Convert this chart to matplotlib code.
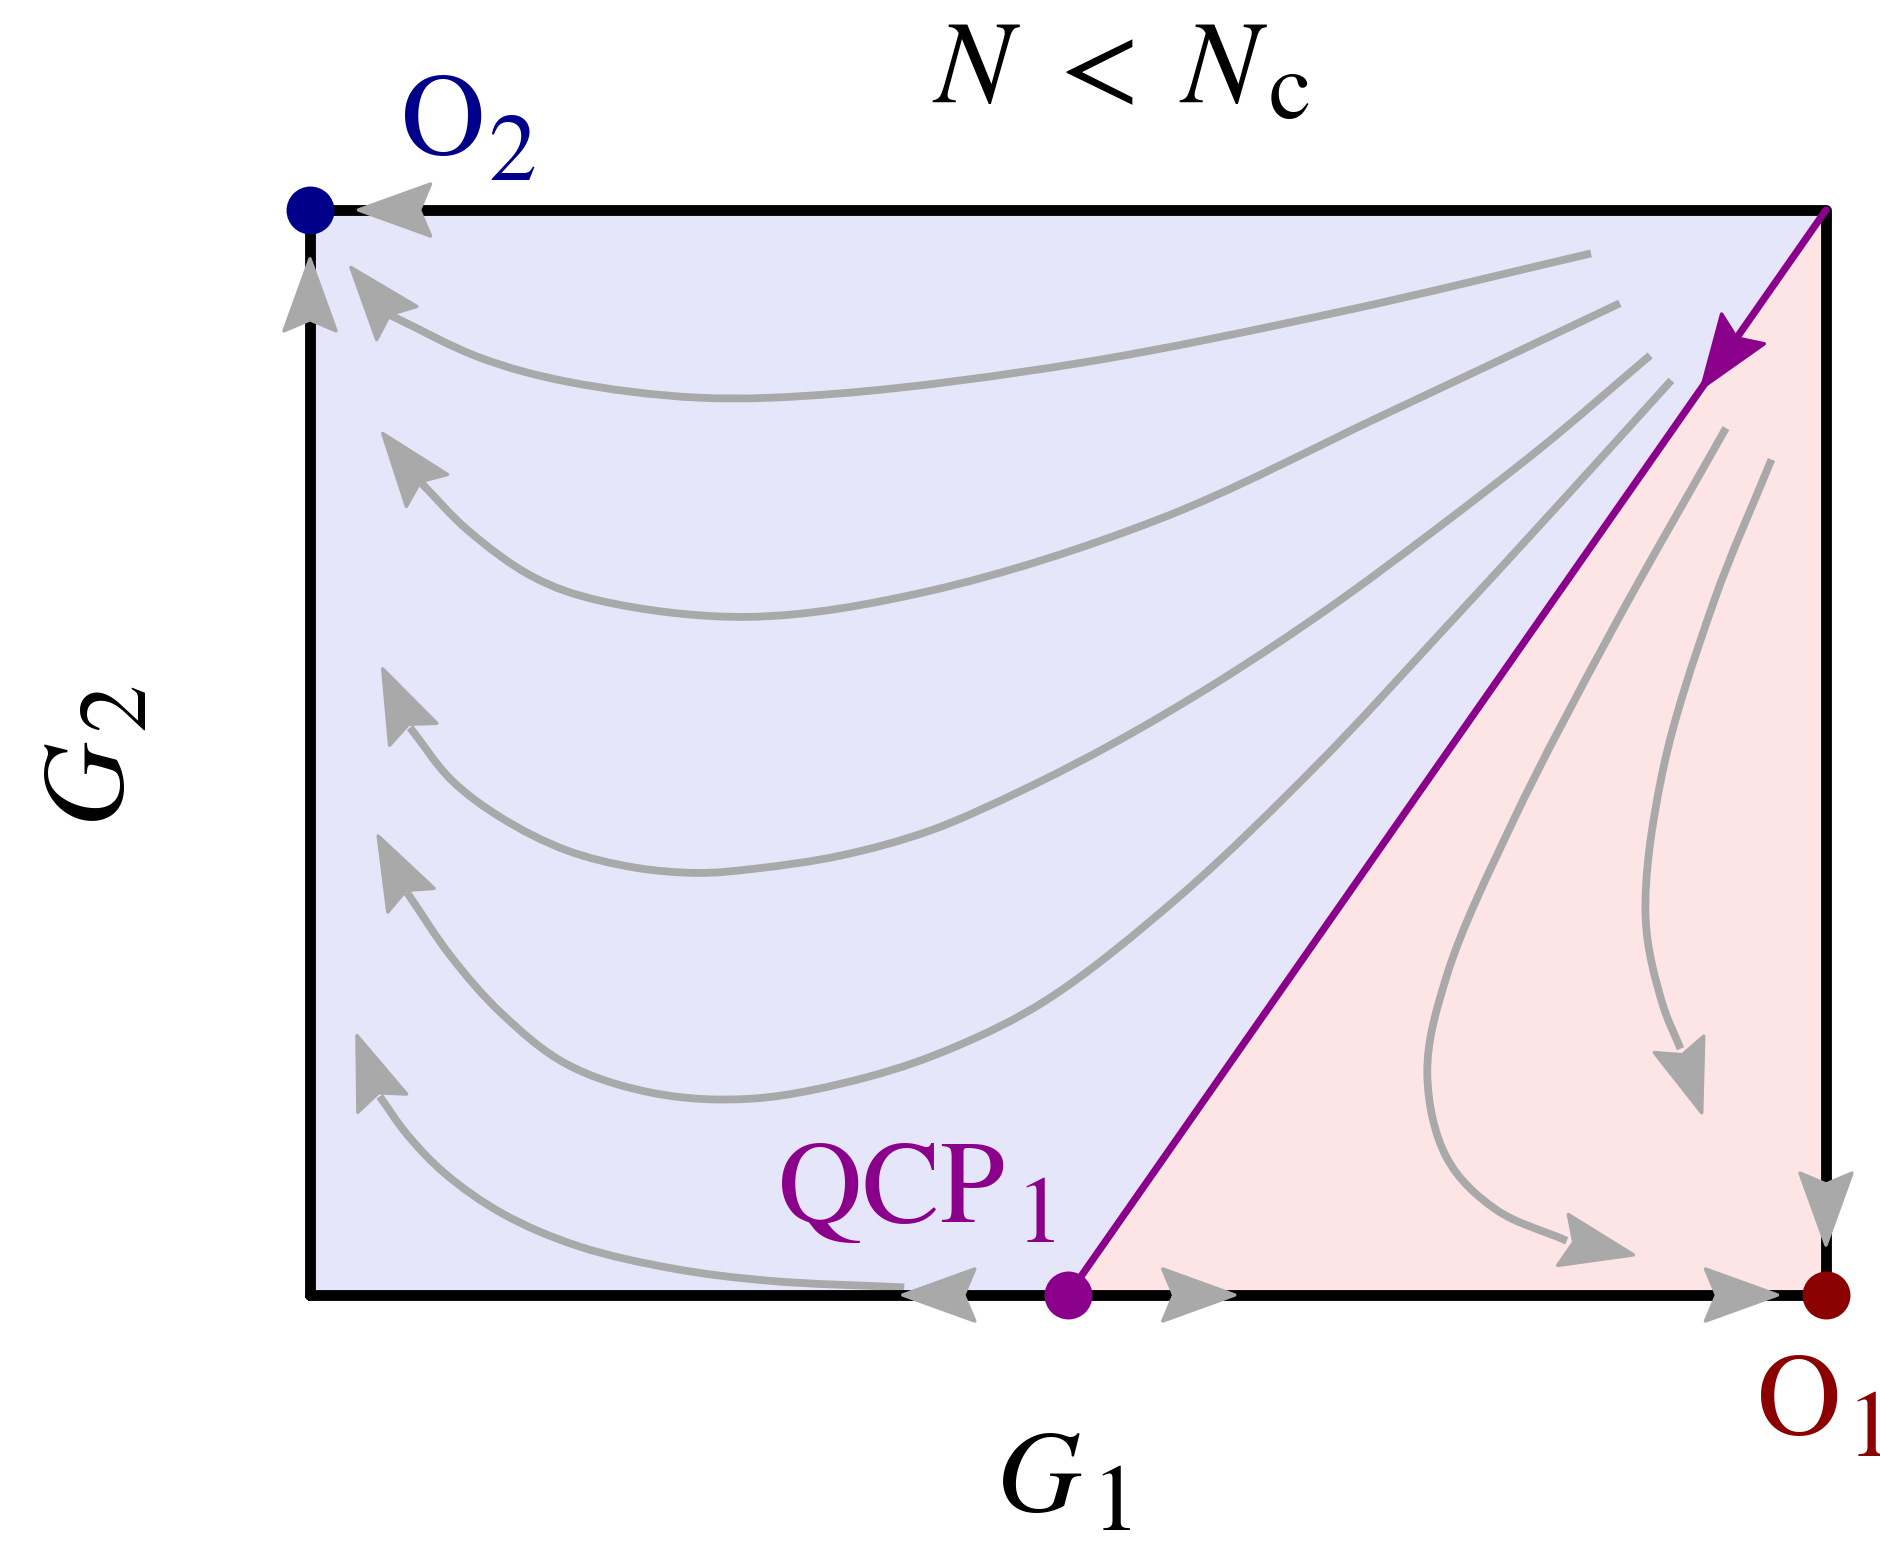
import numpy as np
import matplotlib as mpl
mpl.use("Agg")
import matplotlib.pyplot as plt
import matplotlib.transforms as mtransforms
from matplotlib.patches import Polygon, PathPatch
from matplotlib.path import Path

# ============================================================
# 1) Data: RG flow in the (G1, G2) plane, box = [0, 1] x [0, 1]
# ============================================================
QCP_G1 = 0.5                      # QCP1 sits on the G1 axis
SEPARATRIX_G1 = [0.5, 1.0]        # purple critical line QCP1 -> corner
SEPARATRIX_G2 = [0.0, 1.0]
SEPARATRIX_ARROW = (0.918, 0.836)

FIXED_POINTS = {
    "O2": (0.0, 1.0),
    "O1": (1.0, 0.0),
    "QCP1": (QCP_G1, 0.0),
}

# flow lines in the blue region (towards O2); last two points = notch, tip
FLOW_1_G1 = [0.845, 0.682, 0.508, 0.350, 0.257, 0.169, 0.112, 0.053, 0.027]
FLOW_1_G2 = [0.960, 0.907, 0.859, 0.831, 0.827, 0.842, 0.864, 0.903, 0.947]

FLOW_2_G1 = [0.864, 0.711, 0.560, 0.409, 0.290, 0.191, 0.147, 0.104, 0.073, 0.048]
FLOW_2_G2 = [0.914, 0.813, 0.715, 0.649, 0.625, 0.640, 0.662, 0.705, 0.749, 0.794]

FLOW_3_G1 = [0.884, 0.813, 0.742, 0.672, 0.601, 0.532, 0.471, 0.409, 0.350, 0.294, 0.257,
             0.214, 0.169, 0.126, 0.093, 0.066, 0.048]
FLOW_3_G2 = [0.866, 0.782, 0.705, 0.633, 0.567, 0.510, 0.466, 0.428, 0.405, 0.393, 0.389,
             0.394, 0.410, 0.440, 0.475, 0.523, 0.577]

FLOW_4_G1 = [0.898, 0.824, 0.745, 0.666, 0.574, 0.486, 0.426, 0.368, 0.292, 0.227, 0.169,
             0.126, 0.093, 0.064, 0.045]
FLOW_4_G2 = [0.843, 0.729, 0.609, 0.491, 0.368, 0.272, 0.229, 0.201, 0.181, 0.186, 0.213,
             0.260, 0.312, 0.371, 0.423]

FLOW_5_G1 = [0.392, 0.304, 0.241, 0.177, 0.127, 0.089, 0.064, 0.046, 0.031]
FLOW_5_G2 = [0.007, 0.013, 0.024, 0.045, 0.075, 0.112, 0.148, 0.183, 0.239]

# flow lines in the pink region (towards O1)
FLOW_6_G1 = [0.934, 0.859, 0.794, 0.750, 0.737, 0.750, 0.782, 0.829, 0.873]
FLOW_6_G2 = [0.799, 0.613, 0.438, 0.295, 0.204, 0.126, 0.079, 0.050, 0.037]

FLOW_7_G1 = [0.964, 0.926, 0.892, 0.881, 0.892, 0.904, 0.918]
FLOW_7_G2 = [0.770, 0.639, 0.481, 0.348, 0.269, 0.227, 0.168]

FLOWS = [
    (FLOW_1_G1, FLOW_1_G2), (FLOW_2_G1, FLOW_2_G2), (FLOW_3_G1, FLOW_3_G2),
    (FLOW_4_G1, FLOW_4_G2), (FLOW_5_G1, FLOW_5_G2),
    (FLOW_6_G1, FLOW_6_G2), (FLOW_7_G1, FLOW_7_G2),
]

# arrows sitting on the box edges: (tip G1, tip G2, direction)
EDGE_ARROWS = [
    (0.032, 1.000, (-1, 0)),
    (0.000, 0.955, (0, 1)),
    (0.391, 0.000, (-1, 0)),
    (0.610, 0.000, (1, 0)),
    (0.968, 0.000, (1, 0)),
    (1.000, 0.046, (0, -1)),
]

# ============================================================
# 2) Styling / canvas
# ============================================================
GRAY = "#A9A9A9"
PURPLE = "#8B008B"
NAVY = "#00008B"
DARKRED = "#8B0000"
BLUE_FILL = "#E6E6FA"
PINK_FILL = "#FDE5E5"

mpl.rcParams.update({
    "mathtext.fontset": "stix",
    "font.family": "STIXGeneral",
})

W_PX, H_PX = 1881, 1547
BOX_L, BOX_R, BOX_T, BOX_B = 310, 1826, 210, 1295   # box frame in pixels
sx = BOX_R - BOX_L
sy = BOX_B - BOX_T

fig = plt.figure(figsize=(W_PX / 100, H_PX / 100), dpi=100)
ax = fig.add_axes([0, 0, 1, 1])
ax.set_xlim(-BOX_L / sx, (W_PX - BOX_L) / sx)
ax.set_ylim((BOX_B - H_PX) / sy, BOX_B / sy)
ax.axis("off")


def px(x, y):
    """pixel position (from top-left) -> data coords"""
    return (x - BOX_L) / sx, (BOX_B - y) / sy


def smooth_path(xs, ys, alpha=0.5):
    """centripetal Catmull-Rom through the points, as cubic Bezier segments"""
    P = np.column_stack([xs, ys]).astype(float)
    P = np.vstack([2 * P[0] - P[1], P, 2 * P[-1] - P[-2]])
    scale = np.array([sx, sy])

    def d(a, b):
        return max(np.hypot(*((b - a) * scale)) ** alpha, 1e-9)

    verts, codes = [P[1]], [Path.MOVETO]
    for i in range(1, len(P) - 2):
        p0, p1, p2, p3 = P[i - 1], P[i], P[i + 1], P[i + 2]
        d1, d2, d3 = d(p0, p1), d(p1, p2), d(p2, p3)
        c1 = (d1**2 * p2 - d2**2 * p0 + (2 * d1**2 + 3 * d1 * d2 + d2**2) * p1) / (3 * d1 * (d1 + d2))
        c2 = (d3**2 * p1 - d2**2 * p3 + (2 * d3**2 + 3 * d3 * d2 + d2**2) * p2) / (3 * d3 * (d3 + d2))
        verts += [c1, c2, p2]
        codes += [Path.CURVE4] * 3
    return Path(verts, codes)


def arrowhead(tip, tail, color, L=0.72, W=0.26, N=0.11, z=5):
    p1 = ax.transData.transform(tip)
    p0 = ax.transData.transform(tail)
    ang = np.arctan2(p1[1] - p0[1], p1[0] - p0[0])
    verts = np.array([[0, 0], [-L, W], [-L + N, 0], [-L, -W]])
    tr = (mtransforms.Affine2D().rotate(ang) + fig.dpi_scale_trans
          + mtransforms.ScaledTranslation(tip[0], tip[1], ax.transData))
    ax.add_patch(Polygon(verts, closed=True, transform=tr, fc=color, ec=color,
                         lw=2.5, joinstyle="round", zorder=z))


# ============================================================
# 3) Regions, flows, box
# ============================================================
ax.add_patch(Polygon([(0, 0), (QCP_G1, 0), (1, 1), (0, 1)], closed=True,
                     fc=BLUE_FILL, ec="none", zorder=0))
ax.add_patch(Polygon([(QCP_G1, 0), (1, 0), (1, 1)], closed=True,
                     fc=PINK_FILL, ec="none", zorder=0))

for g1, g2 in FLOWS:
    ax.add_patch(PathPatch(smooth_path(g1[:-1], g2[:-1]), fill=False, ec=GRAY,
                           lw=5.6, capstyle="butt", joinstyle="round", zorder=2))
    arrowhead((g1[-1], g2[-1]), (g1[-2], g2[-2]), GRAY, z=3)

ax.plot([0, 1, 1, 0, 0], [0, 0, 1, 1, 0], color="black", lw=7.8,
        solid_joinstyle="round", solid_capstyle="round", zorder=4)

ax.plot(SEPARATRIX_G1, SEPARATRIX_G2, color=PURPLE, lw=5.2,
        solid_capstyle="round", zorder=5)
arrowhead(SEPARATRIX_ARROW, (SEPARATRIX_G1[1], SEPARATRIX_G2[1]), PURPLE, z=6)

for x, y, (dx, dy) in EDGE_ARROWS:
    arrowhead((x, y), (x - 0.05 * dx, y - 0.05 * dy), GRAY, z=6)

dot_colors = {"O2": NAVY, "O1": DARKRED, "QCP1": PURPLE}
for name, (x, y) in FIXED_POINTS.items():
    ax.plot(x, y, "o", ms=34.5, color=dot_colors[name], mec="none", zorder=7)

# ============================================================
# 4) Labels (base glyphs and subscripts placed separately)
# ============================================================
FS = 84
FS_SUB = 69


def label(x, y, s, color="black", size=FS, ha="center", rot=0):
    ax.text(*px(x, y), s, fontsize=size, color=color, ha=ha, va="baseline",
            rotation=rot, rotation_mode="anchor")


label(977, 102, r"$N$")
label(1089, 102, r"$<$")
label(1224, 102, r"$N$")
label(1289, 118, r"$\mathrm{c}$", size=FS_SUB)

label(443, 154, "O", NAVY)
label(512, 180, r"$\mathrm{2}$", NAVY, FS_SUB)

label(892, 1222, "QCP", PURPLE)
label(1035, 1242, r"$\mathrm{1}$", PURPLE, FS_SUB)

label(1039, 1512, r"$G$")
label(1111, 1530, r"$\mathrm{1}$", size=FS_SUB)

label(1799, 1434, "O", DARKRED)
label(1846, 1456, r"$\mathrm{1}$", DARKRED, FS_SUB, ha="left")

label(124, 784, r"$G$", rot=90)
label(146, 709, r"$\mathrm{2}$", size=FS_SUB, rot=90)

fig.savefig("out.png", dpi=100)
